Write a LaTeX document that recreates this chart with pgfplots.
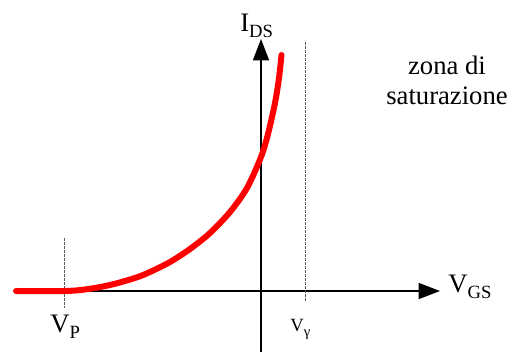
\documentclass[border=0pt]{standalone}
\usepackage{fontspec}
\setmainfont{Liberation Serif}
\usepackage{pgfplots}
\pgfplotsset{compat=1.18}
\usetikzlibrary{arrows.meta}

\begin{document}
\begin{tikzpicture}
\begin{axis}[
    scale only axis,
    width=382.5pt, height=264.75pt,
    xmin=-261, xmax=249, ymin=-62, ymax=291,
    hide axis,
    clip=false,
]
% fixed frame of the drawing
\path (axis cs:-261,-62) rectangle (axis cs:249,291);

% coordinate axes
\draw[line width=1.2pt, -{Triangle[length=16pt,width=12pt]}]
    (axis cs:-245,0) -- (axis cs:179,0);
\draw[line width=1.2pt, -{Triangle[length=16pt,width=12pt]}]
    (axis cs:0,-61) -- (axis cs:0,252);

% reference lines at V_P and V_gamma
\addplot[gray!70!black, line width=0.6pt, dash pattern=on 2pt off 1pt]
    coordinates {(-197,53) (-197,-17)};
\addplot[gray!70!black, line width=0.6pt, dash pattern=on 2pt off 1pt]
    coordinates {(44,249) (44,-11)};

% transfer characteristic I_DS(V_GS)
\addplot[red, line width=4.5pt, line cap=round, line join=round, smooth]
    coordinates {
    (-245,0) (-197,0) (-176,1.5) (-151,6) (-126,13) (-111,19) (-91,29)
    (-71,42) (-51,58) (-31,79) (-14,103) (0,134) (7,157)
    (14,188) (18,213) (20.5,236)
    };

% labels
\node[anchor=base west, inner sep=0pt, font=\fontsize{20}{20}\selectfont]
    at (axis cs:-21,259) {I\raisebox{-4.5pt}{\fontsize{14}{14}\selectfont DS}};
\node[anchor=base west, inner sep=0pt, font=\fontsize{20}{20}\selectfont]
    at (axis cs:187,-2) {V\raisebox{-4.5pt}{\fontsize{14}{14}\selectfont GS}};
\node[anchor=base west, inner sep=0pt, font=\fontsize{20}{20}\selectfont]
    at (axis cs:-211,-42) {V\raisebox{-4.5pt}{\fontsize{14}{14}\selectfont P}};
\node[anchor=base west, inner sep=0pt, font=\fontsize{14}{14}\selectfont]
    at (axis cs:29,-41) {V\raisebox{-3.5pt}{\fontsize{11}{11}\selectfont γ}};
\node[anchor=base, inner sep=0pt, font=\fontsize{20}{20}\selectfont]
    at (axis cs:186,216) {zona di};
\node[anchor=base, inner sep=0pt, font=\fontsize{20}{20}\selectfont]
    at (axis cs:186,186) {saturazione};
\end{axis}
\end{tikzpicture}
\end{document}
